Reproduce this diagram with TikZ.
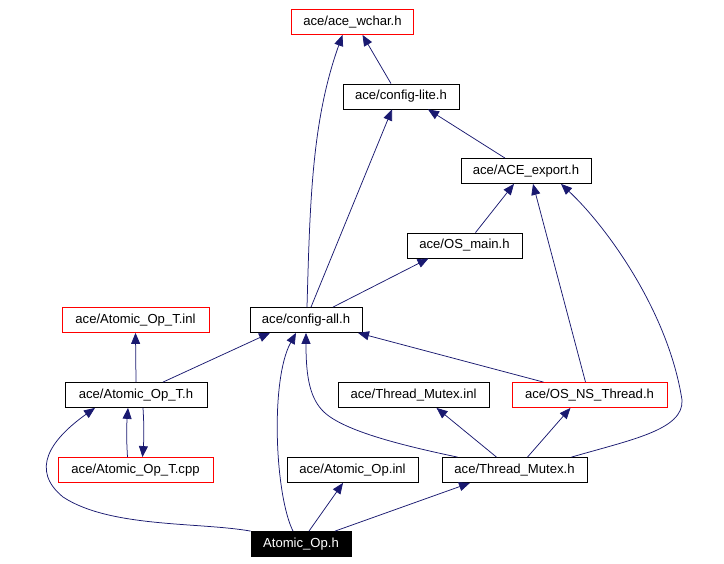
\documentclass[tikz,border=0pt]{standalone}
\usepackage{fontspec}
\setmainfont{Liberation Sans}
\usetikzlibrary{arrows.meta}
\definecolor{edgeblue}{HTML}{191970}

\begin{document}
\begin{tikzpicture}[x=1pt,y=-1pt,
    file/.style={draw=black,line width=0.8pt,rectangle,inner xsep=8pt,inner ysep=0pt,
        minimum height=25pt,font=\fontsize{13.1}{15}\selectfont},
    redfile/.style={file,draw=red},
    mainfile/.style={file,fill=black,text=white},
    inc/.style={draw=edgeblue,line width=0.75pt,-{Triangle[length=11pt,width=9pt]}}]

    % Page frame
    \useasboundingbox (0,0) rectangle (724,564);

    % Headers, top row down
    \node[redfile,minimum width=122]  (wchar)  at (352.5,22)  {ace/ace\_wchar.h};
    \node[file,minimum width=116]     (lite)   at (401,96.5)  {ace/config-lite.h};
    \node[file,minimum width=130]     (export) at (526,171)   {ace/ACE\_export.h};
    \node[file,minimum width=115]     (osmain) at (464.5,245.5) {ace/OS\_main.h};
    \node[redfile,minimum width=147]  (atinl)  at (135.5,320) {ace/Atomic\_Op\_T.inl};
    \node[file,minimum width=112]     (cfgall) at (306,320)   {ace/config-all.h};
    \node[file,minimum width=142]     (atomh)  at (136,395)   {ace/Atomic\_Op\_T.h};
    \node[file,minimum width=151]     (tminl)  at (413.5,395) {ace/Thread\_Mutex.inl};
    \node[redfile,minimum width=155]  (osns)   at (589.5,395) {ace/OS\_NS\_Thread.h};
    \node[redfile,minimum width=155]  (atcpp)  at (135.5,470) {ace/Atomic\_Op\_T.cpp};
    \node[file,minimum width=131]     (aoinl)  at (352.5,470) {ace/Atomic\_Op.inl};
    \node[file,minimum width=145]     (tmh)    at (514.5,470) {ace/Thread\_Mutex.h};
    \node[mainfile,minimum width=100] (aoh)    at (301,544)   {Atomic\_Op.h};

    % Include arrows
    \draw[inc] ([xshift=-10]lite.north) -- ([xshift=10]wchar.south);
    \draw[inc] ([xshift=-21]export.north) -- ([xshift=27]lite.south);
    \draw[inc] ([xshift=11]osmain.north) -- ([xshift=-12]export.south);
    \draw[inc] ([xshift=-4]osns.north) -- ([xshift=7]export.south);
    \draw[inc] ([xshift=57]tmh.north) .. controls (630,440) and (684,430) .. (682,400)
        .. controls (668,310) and (605,225) .. ([xshift=35]export.south);
    \draw[inc] ([xshift=1]cfgall.north) .. controls (310,200) and (312,120) .. ([xshift=-10]wchar.south);
    \draw[inc] ([xshift=5]cfgall.north) -- ([xshift=-9]lite.south);
    \draw[inc] ([xshift=27]cfgall.north) -- ([xshift=-36]osmain.south);
    \draw[inc] ([xshift=-46]osns.north) -- ([xshift=52]cfgall.south);
    \draw[inc] ([xshift=-57]tmh.north) .. controls (400,445) and (340,430) .. (322,410)
        .. controls (308,395) and (306,370) .. (cfgall.south);
    \draw[inc] ([xshift=-18]tmh.north) -- ([xshift=23]tminl.south);
    \draw[inc] ([xshift=13]tmh.north) -- ([xshift=-19]osns.south);
    \draw[inc] ([xshift=-8]aoh.north) .. controls (275,495) and (270,380) .. ([xshift=-10]cfgall.south);
    \draw[inc] ([xshift=8]aoh.north) -- ([xshift=-9.5]aoinl.south);
    \draw[inc] ([xshift=34]aoh.north) -- ([xshift=-44.5]tmh.south);
    \draw[inc] (aoh.north west) .. controls (200,522) and (110,528) .. (63,497)
        .. controls (30,470) and (50,440) .. ([xshift=-41]atomh.south);
    \draw[inc] (atomh.north) -- (atinl.south);
    \draw[inc] ([xshift=27]atomh.north) -- ([xshift=-36]cfgall.south);
    \draw[inc] ([xshift=-8]atcpp.north) to[bend left=4] ([xshift=-8]atomh.south);
    \draw[inc] ([xshift=7]atomh.south) to[bend left=4] ([xshift=7]atcpp.north);
\end{tikzpicture}
\end{document}
